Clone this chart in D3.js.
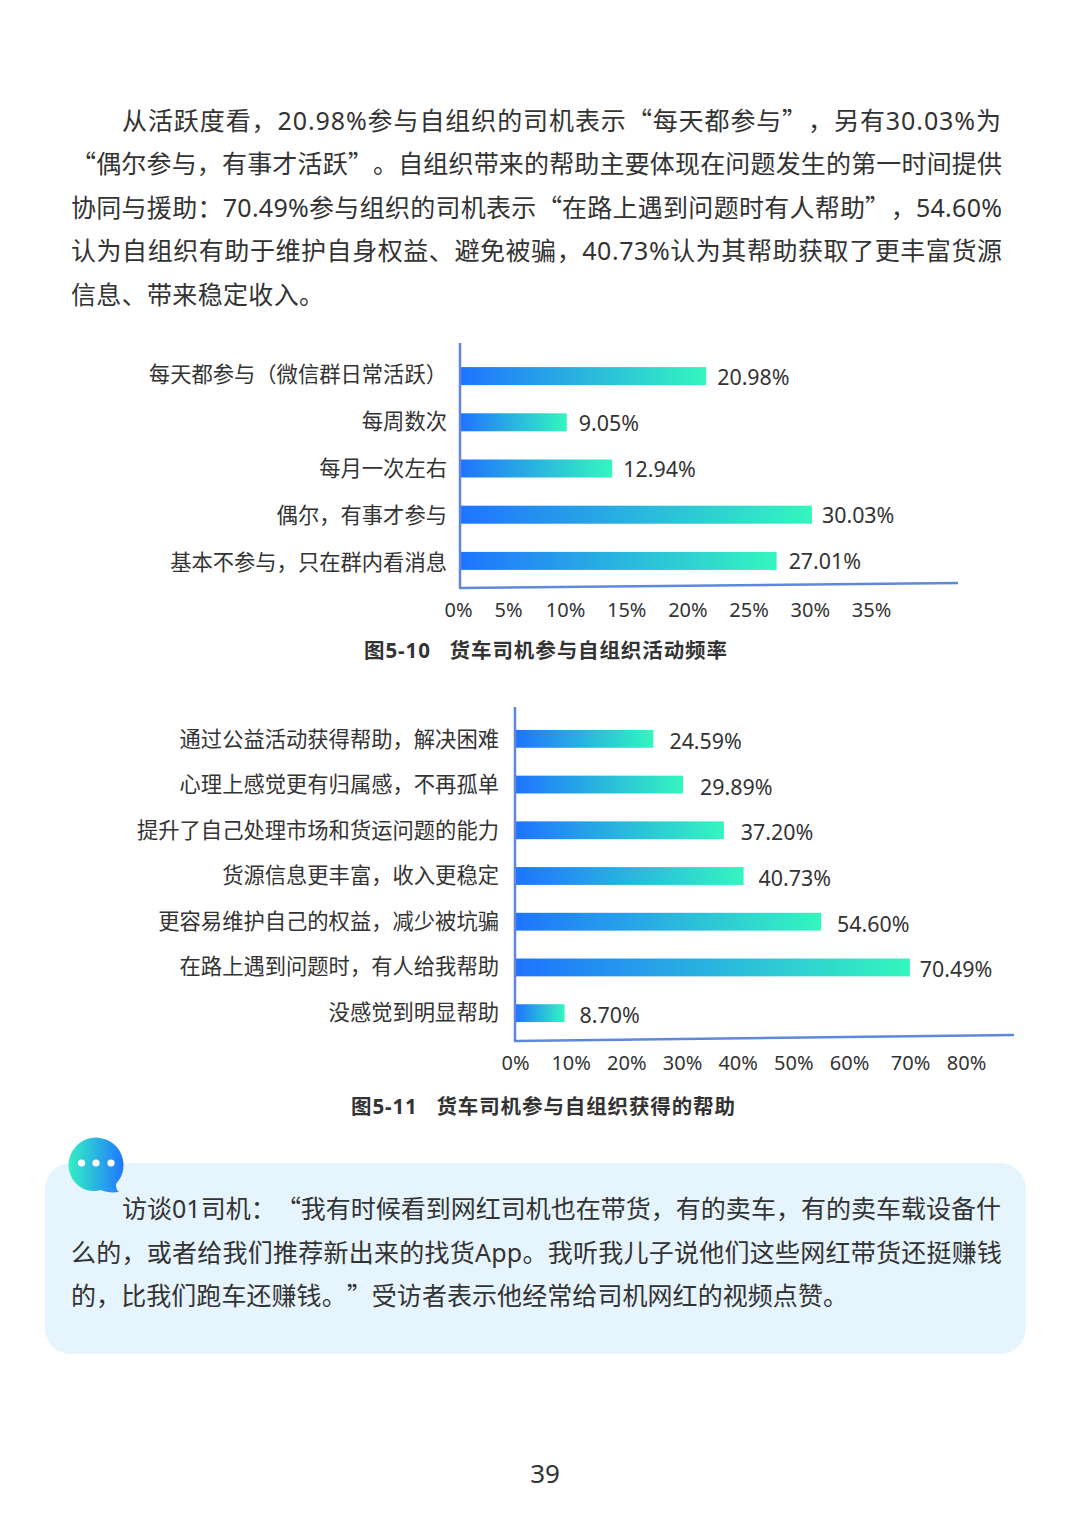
<!DOCTYPE html>
<html>
<head>
<meta charset="utf-8">
<script src="https://cdn.jsdelivr.net/npm/d3@7"></script>
<style>
@font-face { font-family: "WideQuotes"; src: local("Noto Sans CJK SC"); unicode-range: U+2018-201D; }
html, body { margin: 0; background: #fff; }
text { font-family: "WideQuotes", "Noto Sans", "Noto Sans CJK SC", sans-serif; fill: #333; text-spacing-trim: space-all; }
</style>
</head>
<body>
<div class="graph"></div>
<script>
const frequencyCategories = ['每天都参与（微信群日常活跃）', '每周数次', '每月一次左右', '偶尔，有事才参与', '基本不参与，只在群内看消息'];
const frequencyValues = [20.98, 9.05, 12.94, 30.03, 27.01];
const frequencyTicks = [0, 5, 10, 15, 20, 25, 30, 35];

const helpCategories = ['通过公益活动获得帮助，解决困难', '心理上感觉更有归属感，不再孤单', '提升了自己处理市场和货运问题的能力', '货源信息更丰富，收入更稳定', '更容易维护自己的权益，减少被坑骗', '在路上遇到问题时，有人给我帮助', '没感觉到明显帮助'];
const helpValues = [24.59, 29.89, 37.20, 40.73, 54.60, 70.49, 8.70];
const helpTicks = [0, 10, 20, 30, 40, 50, 60, 70, 80];

const introLines = [
    '从活跃度看，20.98%参与自组织的司机表示“每天都参与”，另有30.03%为',
    '“偶尔参与，有事才活跃”。自组织带来的帮助主要体现在问题发生的第一时间提供',
    '协同与援助：70.49%参与组织的司机表示“在路上遇到问题时有人帮助”，54.60%',
    '认为自组织有助于维护自身权益、避免被骗，40.73%认为其帮助获取了更丰富货源',
    '信息、带来稳定收入。'
];
const quoteLines = [
    '访谈01司机：“我有时候看到网红司机也在带货，有的卖车，有的卖车载设备什',
    '么的，或者给我们推荐新出来的找货App。我听我儿子说他们这些网红带货还挺赚钱',
    '的，比我们跑车还赚钱。”受访者表示他经常给司机网红的视频点赞。'
];

const width = 1080;
const height = 1527;
const svg = d3.select('.graph')
    .append('svg')
    .attr('width', width)
    .attr('height', height)
    .style('display', 'block');

const defs = svg.append('defs');
addGradient('barFill', '#1f74ff', '#34f6bf');
addGradient('bubbleFill', '#34f0c4', '#1f78ff');

function addGradient(id, from, to) {
    const g = defs.append('linearGradient').attr('id', id);
    g.append('stop').attr('offset', '0%').attr('stop-color', from);
    g.append('stop').attr('offset', '100%').attr('stop-color', to);
}

function drawLines(lines, opts) {
    svg.selectAll(null)
        .data(lines)
        .enter()
        .append('text')
        .attr('x', (d, i) => opts.starts[i])
        .attr('y', (d, i) => opts.top + i * opts.step)
        .attr('dominant-baseline', 'central')
        .attr('textLength', (d, i) => opts.lengths[i])
        .attr('lengthAdjust', 'spacing')
        .style('font-size', '25px')
        .text(d => d);
}

function plot(opts) {
    const xScale = d3.scaleLinear()
        .domain([0, opts.max])
        .range([opts.left, opts.right]);
    const yScale = d3.scaleBand()
        .domain(opts.categories)
        .range([opts.top, opts.bottom])
        .paddingInner(0.61)
        .paddingOuter(0.305);
    // category labels sit on their own spacing in the source, not quite on the bars
    const labelScale = d3.scalePoint()
        .domain(opts.categories)
        .range(opts.labelRange);
    const tickScale = d3.scaleLinear()
        .domain(opts.tickStops)
        .range(opts.tickRange);
    const values = opts.categories.map((c, i) => ({ name: c, value: opts.values[i], gap: opts.gaps[i] }));

    const chart = svg.append('g');
    chart.selectAll('rect')
        .data(values)
        .enter()
        .append('rect')
        .attr('x', xScale(0))
        .attr('y', d => yScale(d.name))
        .attr('width', d => xScale(d.value) - xScale(0))
        .attr('height', yScale.bandwidth())
        .attr('fill', 'url(#barFill)');

    chart.selectAll('.bar-label')
        .data(values)
        .enter()
        .append('text')
        .classed('bar-label', true)
        .attr('x', d => xScale(d.value) + d.gap)
        .attr('y', d => yScale(d.name) + yScale.bandwidth() / 2 + opts.valueDrop)
        .attr('dominant-baseline', 'central')
        .style('font-size', '21.4px')
        .text(d => d.value.toFixed(2) + '%');

    chart.selectAll('.cat-label')
        .data(values)
        .enter()
        .append('text')
        .classed('cat-label', true)
        .attr('x', opts.labelEnd)
        .attr('y', d => labelScale(d.name))
        .attr('dominant-baseline', 'central')
        .style('text-anchor', 'end')
        .style('font-size', '21.3px')
        .text(d => d.name);

    // the x axis in the source is drawn slightly tilted
    chart.append('line')
        .attr('x1', opts.left - 1).attr('y1', opts.axisTop)
        .attr('x2', opts.left - 1).attr('y2', opts.axisBottom)
        .attr('stroke', '#5f87dc').attr('stroke-width', 2.5);
    chart.append('line')
        .attr('x1', opts.left - 2).attr('y1', opts.axisBottom)
        .attr('x2', opts.axisEnd).attr('y2', opts.axisBottom - opts.tilt)
        .attr('stroke', '#5f87dc').attr('stroke-width', 2.5);

    const xAxis = d3.axisBottom(tickScale)
        .tickValues(opts.ticks)
        .tickSize(0)
        .tickPadding(0)
        .tickFormat(d => d + '%');
    const axisG = chart.append('g')
        .attr('transform', `translate(0,${opts.tickY})`)
        .call(xAxis);
    axisG.select('.domain').remove();
    axisG.selectAll('text')
        .attr('y', 0)
        .attr('dy', 0)
        .attr('dominant-baseline', 'central')
        .style('font-size', '20px')
        .style('font-family', '"Noto Sans", sans-serif')
        .style('fill', '#333');

    svg.append('text')
        .attr('x', opts.captionX)
        .attr('y', opts.captionY)
        .attr('dominant-baseline', 'central')
        .attr('textLength', opts.captionLength)
        .style('font-size', '20.5px')
        .style('font-weight', 700)
        .style('white-space', 'pre')
        .text(opts.caption);
}

drawLines(introLines, {
    starts: [122, 71, 71, 71, 71],
    lengths: [879, 931, 931, 931, 253],
    top: 120,
    step: 43.4
});

plot({
    categories: frequencyCategories, values: frequencyValues, gaps: [11, 12, 11, 10, 12],
    max: 35, left: 461, right: 870,
    top: 353, bottom: 584,
    valueDrop: 0,
    labelRange: [373, 561], labelEnd: 447,
    axisTop: 343, axisBottom: 588, axisEnd: 958, tilt: 5,
    ticks: frequencyTicks, tickStops: [0, 5, 10, 35], tickRange: [458, 508, 565, 871], tickY: 609,
    caption: '图5-10   货车司机参与自组织活动频率', captionX: 364, captionY: 650, captionLength: 363
});

plot({
    categories: helpCategories, values: helpValues, gaps: [16, 17, 17, 15, 16, 10, 15],
    max: 80, left: 516, right: 963,
    top: 716, bottom: 1036,
    valueDrop: 1.5,
    labelRange: [738, 1011], labelEnd: 499,
    axisTop: 707, axisBottom: 1041, axisEnd: 1014, tilt: 6,
    ticks: helpTicks, tickStops: [0, 60, 70, 80], tickRange: [515, 849, 910, 966], tickY: 1062,
    caption: '图5-11   货车司机参与自组织获得的帮助', captionX: 351, captionY: 1106, captionLength: 384
});

// interview box
svg.append('rect')
    .attr('x', 45).attr('y', 1163)
    .attr('width', 981).attr('height', 191)
    .attr('rx', 26)
    .attr('fill', '#e6f4fe');

const bubble = svg.append('g').attr('transform', 'translate(96,1165)');
bubble.append('path')
    .attr('d', 'M-27.5,0 A27.5,27.5 0 1 1 20,19 C20,23 21,26 23,27 C16,28 9,27 5,25 C-14,30 -27.5,15 -27.5,0 Z')
    .attr('fill', 'url(#bubbleFill)');
bubble.selectAll('circle')
    .data([-14.5, 0, 15])
    .enter()
    .append('circle')
    .attr('cx', d => d)
    .attr('cy', -2)
    .attr('r', 3.6)
    .attr('fill', '#fff');

drawLines(quoteLines, {
    starts: [122, 71, 71],
    lengths: [879, 931, 777],
    top: 1208,
    step: 43.5
});

svg.append('text')
    .attr('x', 545)
    .attr('y', 1473)
    .attr('dominant-baseline', 'central')
    .style('text-anchor', 'middle')
    .style('font-size', '26px')
    .text('39');
</script>
</body>
</html>
